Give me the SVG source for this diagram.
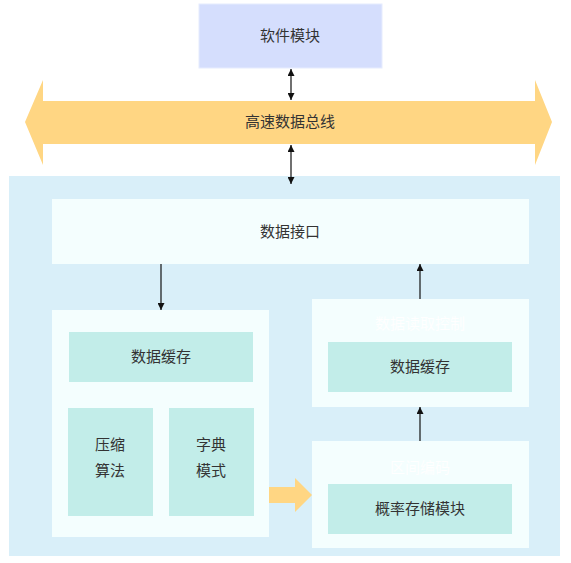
<svg xmlns="http://www.w3.org/2000/svg" width="571" height="563" viewBox="0 0 571 563">
<defs>
<marker id="ah" viewBox="0 0 10 10" refX="10" refY="5" markerWidth="7" markerHeight="7" orient="auto-start-reverse" markerUnits="userSpaceOnUse">
<path d="M0,0 L10,5 L0,10 Z" fill="#111"/>
</marker>
</defs>
<style>
text{font-family:"Noto Sans CJK SC","Liberation Sans",sans-serif;font-size:15px;fill:#333;text-anchor:middle;dominant-baseline:central}
.panel{fill:#f4fefe}
.inner{fill:#c2ede9}
.conn{stroke:#111;stroke-width:1.2;fill:none}
.hidden{fill:#ffffff}
</style>
<rect width="571" height="563" fill="#ffffff"/>
<g id="container"><rect x="9" y="176" width="551" height="380" fill="#d9eff9"/></g>
<g id="software"><rect x="199" y="4" width="183" height="64" fill="#d5defd" stroke="#e6ecfe" stroke-width="1"/><text x="290" y="34">软件模块</text></g>
<g id="bus"><path d="M25,122 L43,80 L43,101 L535,101 L535,80 L552,122 L535,165 L535,144 L43,144 L43,165 Z" fill="#ffd683"/><text x="290" y="120">高速数据总线</text></g>
<g id="interface"><rect x="52" y="199" width="477" height="65" class="panel"/><text x="290" y="230">数据接口</text></g>
<g id="compress">
<rect x="52" y="310" width="217" height="227" class="panel"/>
<rect x="69" y="332" width="184" height="50" class="inner"/><text x="161" y="355">数据缓存</text>
<rect x="68" y="408" width="85" height="108" class="inner"/><text x="110" y="443">压缩</text><text x="110" y="469">算法</text>
<rect x="169" y="408" width="85" height="108" class="inner"/><text x="211" y="443">字典</text><text x="211" y="469">模式</text>
</g>
<g id="readctrl">
<rect x="312" y="299" width="217" height="108" class="panel"/>
<text x="420" y="322" class="hidden">数据读取控制</text>
<rect x="328" y="342" width="184" height="50" class="inner"/><text x="420" y="365">数据缓存</text>
</g>
<g id="encode">
<rect x="312" y="441" width="217" height="107" class="panel"/>
<text x="420" y="466" class="hidden">区间编码</text>
<rect x="328" y="484" width="184" height="50" class="inner"/><text x="420" y="507">概率存储模块</text>
</g>
<g id="connectors">
<line x1="291" y1="69" x2="291" y2="100" class="conn" marker-start="url(#ah)" marker-end="url(#ah)"/>
<line x1="291" y1="145" x2="291" y2="184" class="conn" marker-start="url(#ah)" marker-end="url(#ah)"/>
<line x1="161" y1="264" x2="161" y2="310" class="conn" marker-end="url(#ah)"/>
<line x1="420" y1="299" x2="420" y2="264" class="conn" marker-end="url(#ah)"/>
<line x1="420" y1="441" x2="420" y2="407" class="conn" marker-end="url(#ah)"/>
<path d="M269,487 L295,487 L295,478 L312,495 L295,512 L295,503 L269,503 Z" fill="#ffd683"/>
</g>
</svg>
